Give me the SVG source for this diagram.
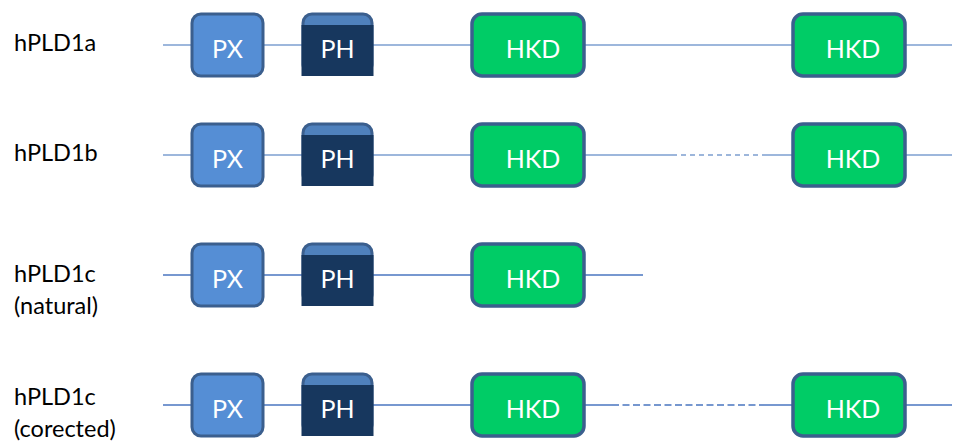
<svg xmlns="http://www.w3.org/2000/svg" width="963" height="447" viewBox="0 0 963 447">
  <style>
    .label { font-family: Lato, "Liberation Sans", sans-serif; font-size: 23.5px; fill: #000000; }
    .dom { font-family: Lato, "Liberation Sans", sans-serif; font-size: 25px; fill: #ffffff; text-anchor: middle; }
    .px { fill: #558ed5; stroke: #3b5f8e; stroke-width: 3; }
    .ph-band { fill: #4f81bd; stroke: #3b5f8e; stroke-width: 3; }
    .ph-body { fill: #17375e; }
    .hkd { fill: #00cc66; stroke: #3b5f8e; stroke-width: 3.5; }
    .line-a { stroke: #7d9fd0; stroke-width: 1.6; fill: none; }
    .line-b { stroke: #4a76c0; stroke-width: 1.6; fill: none; }
    .dash { stroke-dasharray: 5 4; }
  </style>

  <!-- backbone lines -->
  <g id="connectors">
    <line class="line-a" x1="163" y1="45" x2="952" y2="45"/>

    <line class="line-a" x1="163" y1="155" x2="672" y2="155"/>
    <line class="line-a dash" x1="672" y1="155" x2="762" y2="155"/>
    <line class="line-a" x1="762" y1="155" x2="952" y2="155"/>

    <line class="line-b" x1="163" y1="275" x2="643" y2="275"/>

    <line class="line-b" x1="163" y1="405" x2="612" y2="405"/>
    <line class="line-b" x1="612" y1="405" x2="764" y2="405" style="stroke-dasharray: 7 3.5"/>
    <line class="line-b" x1="764" y1="405" x2="952" y2="405"/>
  </g>

  <!-- row labels -->
  <g id="labels">
    <text class="label" x="14" y="51">hPLD1a</text>
    <text class="label" x="14" y="161">hPLD1b</text>
    <text class="label" x="14" y="282">hPLD1c</text>
    <text class="label" x="14" y="314">(natural)</text>
    <text class="label" x="14" y="405">hPLD1c</text>
    <text class="label" x="14" y="437">(corected)</text>
  </g>

  <!-- hPLD1a -->
  <g id="a-px"><rect class="px" x="192" y="14" width="71" height="62" rx="9"/><text class="dom" x="227.5" y="58">PX</text></g>
  <g id="a-ph"><rect class="ph-band" x="303" y="14" width="69" height="60" rx="9"/><rect class="ph-body" x="301.5" y="25" width="72" height="51"/><text class="dom" x="337.5" y="58">PH</text></g>
  <g id="a-hkd1"><rect class="hkd" x="472" y="14" width="112" height="62" rx="10"/><text class="dom" x="533" y="58">HKD</text></g>
  <g id="a-hkd2"><rect class="hkd" x="793" y="14" width="112" height="62" rx="10"/><text class="dom" x="853" y="58">HKD</text></g>

  <!-- hPLD1b -->
  <g id="b-px"><rect class="px" x="192" y="124" width="71" height="62" rx="9"/><text class="dom" x="227.5" y="168">PX</text></g>
  <g id="b-ph"><rect class="ph-band" x="303" y="124" width="69" height="60" rx="9"/><rect class="ph-body" x="301.5" y="135" width="72" height="51"/><text class="dom" x="337.5" y="168">PH</text></g>
  <g id="b-hkd1"><rect class="hkd" x="472" y="124" width="112" height="62" rx="10"/><text class="dom" x="533" y="168">HKD</text></g>
  <g id="b-hkd2"><rect class="hkd" x="793" y="124" width="112" height="62" rx="10"/><text class="dom" x="853" y="168">HKD</text></g>

  <!-- hPLD1c (natural) -->
  <g id="c-px"><rect class="px" x="192" y="244" width="71" height="62" rx="9"/><text class="dom" x="227.5" y="288">PX</text></g>
  <g id="c-ph"><rect class="ph-band" x="303" y="244" width="69" height="60" rx="9"/><rect class="ph-body" x="301.5" y="255" width="72" height="51"/><text class="dom" x="337.5" y="288">PH</text></g>
  <g id="c-hkd1"><rect class="hkd" x="472" y="244" width="112" height="62" rx="10"/><text class="dom" x="533" y="288">HKD</text></g>

  <!-- hPLD1c (corected) -->
  <g id="d-px"><rect class="px" x="192" y="374" width="71" height="62" rx="9"/><text class="dom" x="227.5" y="418">PX</text></g>
  <g id="d-ph"><rect class="ph-band" x="303" y="374" width="69" height="60" rx="9"/><rect class="ph-body" x="301.5" y="385" width="72" height="51"/><text class="dom" x="337.5" y="418">PH</text></g>
  <g id="d-hkd1"><rect class="hkd" x="472" y="374" width="112" height="62" rx="10"/><text class="dom" x="533" y="418">HKD</text></g>
  <g id="d-hkd2"><rect class="hkd" x="793" y="374" width="112" height="62" rx="10"/><text class="dom" x="853" y="418">HKD</text></g>
</svg>
